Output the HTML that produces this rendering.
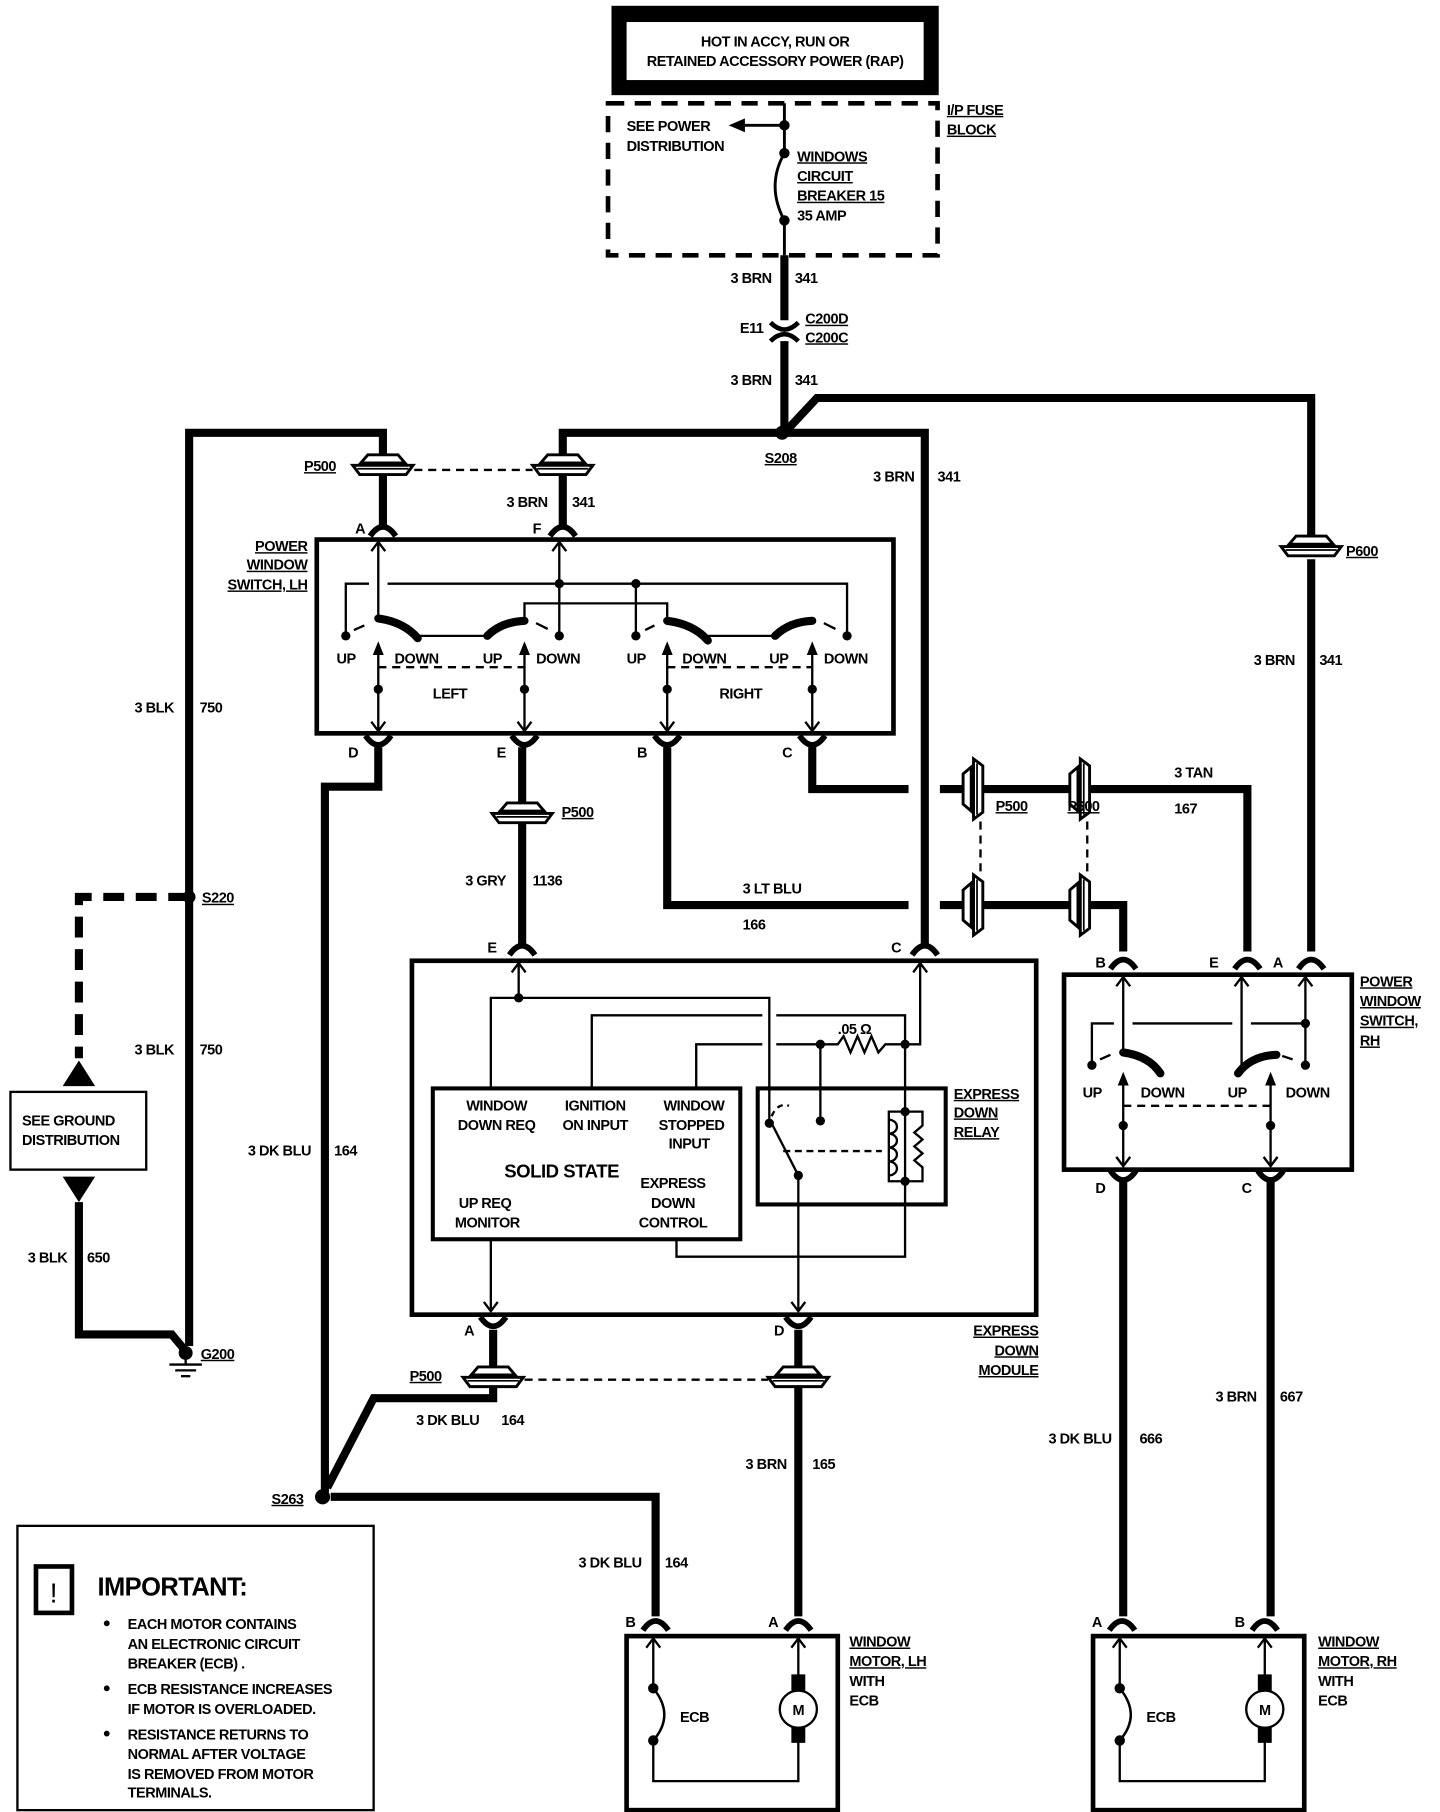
<!DOCTYPE html>
<html><head><meta charset="utf-8"><style>
html,body{margin:0;padding:0;background:#fff}
svg{display:block}
text{font-family:"Liberation Sans",Arial,sans-serif;font-weight:bold;font-size:12.5px;fill:#000;letter-spacing:-0.4px}
.u{text-decoration:underline}
</style></head><body>
<svg width="1440" height="1812" viewBox="0 0 1241 1561.6" xmlns="http://www.w3.org/2000/svg">
<defs>
<path id="ta" d="M-11,7 Q0,-9 11,7" fill="none" stroke="#000" stroke-width="5"/>
<path id="bt" d="M-11,-7 Q0,9 11,-7" fill="none" stroke="#000" stroke-width="5"/>
<g id="ch"><path d="M-13,-9 L13,-9 L19,-2 L-19,-2 Z" fill="#fff" stroke="#000" stroke-width="2.5"/><path d="M-26,0 L26,0 L20,8 L-20,8 Z" fill="#fff" stroke="#000" stroke-width="2.5"/><line x1="-22" y1="3" x2="22" y2="3" stroke="#000" stroke-width="1.5"/></g>
<path id="au" d="M-6,8 L0,0 L6,8" fill="none" stroke="#000" stroke-width="2"/>
<path id="ad" d="M-6,-8 L0,0 L6,-8" fill="none" stroke="#000" stroke-width="2"/>
<path id="aup" d="M-4,10 L0,0 L4,10 Z" fill="#000" stroke="#000" stroke-width="1"/>
</defs>

<!-- top power box -->
<rect x="527" y="5" width="282" height="77" fill="#000"/>
<rect x="540" y="19" width="256" height="50" fill="#fff"/>
<text x="668" y="40" text-anchor="middle">HOT IN ACCY, RUN OR</text>
<text x="668" y="57" text-anchor="middle">RETAINED ACCESSORY POWER (RAP)</text>

<!-- fuse block -->
<rect x="524" y="89" width="284" height="131" fill="none" stroke="#000" stroke-width="4" stroke-dasharray="14 9"/>
<g stroke="#000" stroke-width="2.5" fill="none">
<line x1="676" y1="89" x2="676" y2="132"/>
<line x1="676" y1="108" x2="640" y2="108"/>
<path d="M676,132 Q660,160 676,190"/>
<line x1="676" y1="190" x2="676" y2="220"/>
</g>
<path d="M628,108 L642,102 L642,114 Z"/>
<circle cx="676" cy="108" r="4.5"/><circle cx="676" cy="132" r="4.5"/><circle cx="676" cy="190" r="4.5"/>
<text x="540" y="113">SEE POWER</text><text x="540" y="130">DISTRIBUTION</text>
<text x="687" y="139" class="u">WINDOWS</text><text x="687" y="156" class="u">CIRCUIT</text><text x="687" y="173" class="u">BREAKER 15</text><text x="687" y="190">35 AMP</text>
<text x="816" y="99" class="u">I/P FUSE</text><text x="816" y="116" class="u">BLOCK</text>

<!-- thick wires -->
<g stroke="#000" stroke-width="7" fill="none">
<polyline points="676,220 676,276"/>
<polyline points="676,294 676,373"/>
<polyline points="676,373 704,343 1130,343 1130,462"/>
<polyline points="1130,482 1130,820"/>
<polyline points="485,393 485,373 797,373 797,814"/>
<polyline points="485,410 485,452"/>
<polyline points="330,393 330,373 163,373 163,1160"/>
<polyline points="330,410 330,452"/>
<polyline points="326,644 326,678 280,678 280,1286"/>
<polyline points="450,644 450,692"/>
<polyline points="450,710 450,814"/>
<polyline points="575,644 575,780 783,780"/>
<polyline points="700,644 700,680 783,680"/>
<polyline points="810,680 830,680"/>
<polyline points="810,780 830,780"/>
<polyline points="848,680 922,680"/>
<polyline points="848,780 922,780"/>
<polyline points="940,680 1075,680 1075,820"/>
<polyline points="940,780 968,780 968,820"/>
<polyline points="425,1146 425,1178"/>
<polyline points="425,1196 425,1205 322,1205 282,1282"/>
<polyline points="688,1146 688,1178"/>
<polyline points="688,1196 688,1393"/>
<polyline points="285,1290 565,1290 565,1393"/>
<polyline points="968,1016 968,1393"/>
<polyline points="1095,1016 1095,1393"/>
<polyline points="68,1036 68,1150 148,1150 158,1162"/>
</g>
<polyline points="163,773 68,773 68,912" fill="none" stroke="#000" stroke-width="7" stroke-dasharray="18 10"/>
<!-- C200 -->
<path d="M664,278 Q676,290 688,278 M664,294 Q676,282 688,294" fill="none" stroke="#000" stroke-width="4"/>
<text x="658" y="287" text-anchor="end">E11</text>
<text x="694" y="279" class="u">C200D</text><text x="694" y="295" class="u">C200C</text>
<text x="665" y="244" text-anchor="end">3 BRN</text><text x="685" y="244">341</text>
<text x="665" y="332" text-anchor="end">3 BRN</text><text x="685" y="332">341</text>
<circle cx="674" cy="373" r="6"/>
<text x="659" y="399" class="u">S208</text>
<text x="788" y="415" text-anchor="end">3 BRN</text><text x="808" y="415">341</text>
<text x="472" y="437" text-anchor="end">3 BRN</text><text x="493" y="437">341</text>

<!-- P500 top -->
<use href="#ch" x="330" y="401"/><use href="#ch" x="485" y="401"/>
<line x1="357" y1="405" x2="459" y2="405" stroke="#000" stroke-width="2" stroke-dasharray="7 5"/>
<text x="262" y="406" class="u">P500</text>
<use href="#ch" x="1130" y="471"/><text x="1160" y="479" class="u">P600</text>
<text x="1116" y="573" text-anchor="end">3 BRN</text><text x="1137" y="573">341</text>
<text x="150" y="614" text-anchor="end">3 BLK</text><text x="172" y="614">750</text>
<text x="150" y="909" text-anchor="end">3 BLK</text><text x="172" y="909">750</text>
<circle cx="163" cy="773" r="5.5"/><text x="174" y="778" class="u">S220</text>

<!-- ground distribution -->
<path d="M68,914 L82,936 L54,936 Z"/>
<rect x="9" y="941" width="117" height="67" fill="#fff" stroke="#000" stroke-width="2"/>
<text x="19" y="970">SEE GROUND</text><text x="19" y="987">DISTRIBUTION</text>
<path d="M54,1014 L82,1014 L68,1036 Z"/>
<text x="58" y="1088" text-anchor="end">3 BLK</text><text x="75" y="1088">650</text>
<circle cx="160" cy="1166" r="6"/>
<g stroke="#000" stroke-width="2"><line x1="160" y1="1160" x2="160" y2="1176"/><line x1="146" y1="1176" x2="174" y2="1176"/><line x1="151" y1="1181" x2="169" y2="1181"/><line x1="156" y1="1186" x2="164" y2="1186"/></g>
<text x="173" y="1171" class="u">G200</text>

<!-- LH switch -->
<text x="306" y="460">A</text><text x="459" y="460">F</text>
<use href="#ta" x="330" y="455"/><use href="#ta" x="485" y="455"/>
<rect x="273" y="465" width="497" height="167" fill="none" stroke="#000" stroke-width="4"/>
<g stroke="#000" stroke-width="2" fill="none">
<line x1="326" y1="467" x2="326" y2="532"/>
<line x1="482" y1="467" x2="482" y2="548"/>
<polyline points="298,548 298,503 318,503"/>
<polyline points="334,503 730,503 730,548"/>
<line x1="548" y1="503" x2="548" y2="548"/>
<polyline points="452,537 452,520 575,520 575,537"/>
<line x1="360" y1="548" x2="420" y2="548"/>
<line x1="610" y1="548" x2="668" y2="548"/>
<line x1="305" y1="543" x2="314" y2="539"/><line x1="462" y1="537" x2="472" y2="542"/>
<line x1="556" y1="543" x2="564" y2="539"/><line x1="710" y1="537" x2="720" y2="542"/>
<line x1="326" y1="556" x2="326" y2="630"/><line x1="452" y1="556" x2="452" y2="630"/>
<line x1="575" y1="556" x2="575" y2="630"/><line x1="700" y1="556" x2="700" y2="630"/>
</g>
<g stroke="#000" stroke-width="7" fill="none" stroke-linecap="round">
<path d="M326,533 Q348,536 360,550"/><path d="M420,548 Q432,536 452,535"/>
<path d="M575,535 Q598,538 610,552"/><path d="M668,548 Q680,536 700,535"/>
</g>
<use href="#au" x="326" y="467"/><use href="#au" x="482" y="467"/>
<circle cx="482" cy="503" r="4"/><circle cx="548" cy="503" r="4"/>
<circle cx="298" cy="548" r="4"/><circle cx="482" cy="548" r="4"/><circle cx="548" cy="548" r="4"/><circle cx="730" cy="548" r="4"/>
<use href="#aup" x="326" y="554"/><use href="#aup" x="452" y="554"/><use href="#aup" x="575" y="554"/><use href="#aup" x="700" y="554"/>
<line x1="326" y1="575" x2="452" y2="575" stroke="#000" stroke-width="2" stroke-dasharray="7 5"/>
<line x1="575" y1="575" x2="700" y2="575" stroke="#000" stroke-width="2" stroke-dasharray="7 5"/>
<circle cx="326" cy="594" r="4"/><circle cx="452" cy="594" r="4"/><circle cx="575" cy="594" r="4"/><circle cx="700" cy="594" r="4"/>
<use href="#ad" x="326" y="630"/><use href="#ad" x="452" y="630"/><use href="#ad" x="575" y="630"/><use href="#ad" x="700" y="630"/>
<text x="290" y="572">UP</text><text x="340" y="572">DOWN</text><text x="416" y="572">UP</text><text x="462" y="572">DOWN</text>
<text x="540" y="572">UP</text><text x="588" y="572">DOWN</text><text x="663" y="572">UP</text><text x="710" y="572">DOWN</text>
<text x="373" y="602">LEFT</text><text x="620" y="602">RIGHT</text>
<text x="265" y="475" text-anchor="end" class="u">POWER</text><text x="265" y="491" text-anchor="end" class="u">WINDOW</text><text x="265" y="508" text-anchor="end" class="u">SWITCH, LH</text>
<use href="#bt" x="326" y="641"/><use href="#bt" x="452" y="641"/><use href="#bt" x="575" y="641"/><use href="#bt" x="700" y="641"/>
<text x="300" y="653">D</text><text x="428" y="653">E</text><text x="549" y="653">B</text><text x="674" y="653">C</text>

<use href="#ch" x="450" y="701"/><text x="484" y="704" class="u">P500</text>
<text x="436" y="763" text-anchor="end">3 GRY</text><text x="459" y="763">1136</text>
<text x="268" y="996" text-anchor="end">3 DK BLU</text><text x="288" y="996">164</text>
<text x="640" y="770">3 LT BLU</text><text x="640" y="801">166</text>
<text x="1012" y="670">3 TAN</text><text x="1012" y="701">167</text>

<!-- vertical connectors -->
<use href="#ch" transform="translate(839,680) rotate(-90)"/>
<use href="#ch" transform="translate(839,780) rotate(-90)"/>
<use href="#ch" transform="translate(931,680) rotate(-90)"/>
<use href="#ch" transform="translate(931,780) rotate(-90)"/>
<line x1="845" y1="708" x2="845" y2="752" stroke="#000" stroke-width="2" stroke-dasharray="7 5"/>
<line x1="937" y1="708" x2="937" y2="752" stroke="#000" stroke-width="2" stroke-dasharray="7 5"/>
<text x="858" y="699" class="u">P500</text><text x="920" y="699" class="u">P600</text>

<!-- Express down module -->
<text x="420" y="821">E</text><text x="768" y="821">C</text>
<use href="#ta" x="450" y="816"/><use href="#ta" x="797" y="816"/>
<rect x="355" y="828" width="538" height="305" fill="none" stroke="#000" stroke-width="4"/>
<g stroke="#000" stroke-width="2" fill="none">
<line x1="447" y1="830" x2="447" y2="860"/>
<polyline points="423,938 423,860 663,860 663,968"/>
<polyline points="510,938 510,875 657,875"/>
<polyline points="669,875 780,875 780,1083 583,1083 583,1068"/>
<polyline points="600,938 600,900 657,900"/>
<polyline points="669,900 722,900 727,893 733,907 739,893 745,907 751,893 757,907 763,900 793,900 793,830"/>
<line x1="707" y1="900" x2="707" y2="966"/>
<polyline points="780,958 766,958 766,1018 780,1018"/>
<path d="M766,965 a7,6 0 0 1 0,12 M766,977 a7,6 0 0 1 0,12 M766,989 a7,6 0 0 1 0,12 M766,1001 a7,6 0 0 1 0,12"/>
<polyline points="780,958 795,958 795,970 788,976 795,982 788,988 795,994 788,1000 795,1006 795,1018 780,1018"/>
<line x1="688" y1="1013" x2="666" y2="970"/>
<line x1="688" y1="1013" x2="688" y2="1130"/>
<line x1="423" y1="1068" x2="423" y2="1130"/>
<path d="M665,962 Q670,950 680,953" stroke-dasharray="5 4"/>
<line x1="675" y1="992" x2="760" y2="992" stroke-dasharray="6 4"/>
</g>
<use href="#au" x="447" y="830"/><use href="#au" x="793" y="830"/>
<use href="#ad" x="423" y="1130"/><use href="#ad" x="688" y="1130"/>
<circle cx="447" cy="860" r="4"/><circle cx="707" cy="900" r="4"/><circle cx="780" cy="900" r="4"/>
<circle cx="663" cy="968" r="4"/><circle cx="707" cy="966" r="4"/><circle cx="688" cy="1013" r="4"/>
<circle cx="780" cy="958" r="4"/><circle cx="780" cy="1018" r="4"/>
<text x="722" y="891">.05 Ω</text>
<rect x="653" y="938" width="162" height="100" fill="none" stroke="#000" stroke-width="3.5"/>
<rect x="373" y="938" width="265" height="130" fill="none" stroke="#000" stroke-width="3.5"/>
<text x="428" y="957" text-anchor="middle">WINDOW</text><text x="428" y="974" text-anchor="middle">DOWN REQ</text>
<text x="513" y="957" text-anchor="middle">IGNITION</text><text x="513" y="974" text-anchor="middle">ON INPUT</text>
<text x="598" y="957" text-anchor="middle">WINDOW</text><text x="596" y="974" text-anchor="middle">STOPPED</text><text x="594" y="990" text-anchor="middle">INPUT</text>
<text x="484" y="1015" text-anchor="middle" style="font-size:16px">SOLID STATE</text>
<text x="580" y="1024" text-anchor="middle">EXPRESS</text><text x="580" y="1041" text-anchor="middle">DOWN</text><text x="580" y="1058" text-anchor="middle">CONTROL</text>
<text x="418" y="1041" text-anchor="middle">UP REQ</text><text x="420" y="1058" text-anchor="middle">MONITOR</text>
<text x="822" y="947" class="u">EXPRESS</text><text x="822" y="963" class="u">DOWN</text><text x="822" y="980" class="u">RELAY</text>
<text x="895" y="1151" text-anchor="end" class="u">EXPRESS</text><text x="895" y="1168" text-anchor="end" class="u">DOWN</text><text x="895" y="1185" text-anchor="end" class="u">MODULE</text>
<use href="#bt" x="425" y="1142"/><use href="#bt" x="688" y="1142"/>
<text x="400" y="1151">A</text><text x="667" y="1151">D</text>
<use href="#ch" x="425" y="1187"/><use href="#ch" x="688" y="1187"/>
<line x1="452" y1="1189" x2="662" y2="1189" stroke="#000" stroke-width="2" stroke-dasharray="7 5"/>
<text x="353" y="1190" class="u">P500</text>
<text x="413" y="1228" text-anchor="end">3 DK BLU</text><text x="432" y="1228">164</text>
<text x="678" y="1266" text-anchor="end">3 BRN</text><text x="700" y="1266">165</text>
<circle cx="278" cy="1290" r="6.5"/><text x="234" y="1296" class="u">S263</text>
<text x="553" y="1351" text-anchor="end">3 DK BLU</text><text x="573" y="1351">164</text>

<!-- RH switch -->
<text x="944" y="834">B</text><text x="1042" y="834">E</text><text x="1097" y="834">A</text>
<use href="#ta" x="968" y="828"/><use href="#ta" x="1075" y="828"/><use href="#ta" x="1130" y="828"/>
<rect x="917" y="840" width="248" height="168" fill="none" stroke="#000" stroke-width="4"/>
<g stroke="#000" stroke-width="2" fill="none">
<line x1="968" y1="842" x2="968" y2="907"/>
<line x1="1070" y1="842" x2="1070" y2="925"/>
<line x1="1125" y1="842" x2="1125" y2="918"/>
<polyline points="941,918 941,882 960,882"/>
<polyline points="976,882 1062,882"/><polyline points="1078,882 1125,882"/>
<line x1="948" y1="913" x2="957" y2="909"/><line x1="1105" y1="910" x2="1114" y2="913"/>
<line x1="968" y1="927" x2="968" y2="1005"/><line x1="1095" y1="927" x2="1095" y2="1005"/>
<line x1="968" y1="953" x2="1095" y2="953" stroke-dasharray="7 5"/>
</g>
<g stroke="#000" stroke-width="7" fill="none" stroke-linecap="round">
<path d="M968,907 Q990,910 1000,925"/><path d="M1067,925 Q1078,910 1100,909"/>
</g>
<use href="#au" x="968" y="842"/><use href="#au" x="1070" y="842"/><use href="#au" x="1125" y="842"/>
<circle cx="1125" cy="882" r="4"/><circle cx="941" cy="918" r="4"/><circle cx="1125" cy="918" r="4"/>
<use href="#aup" x="968" y="925"/><use href="#aup" x="1095" y="925"/>
<circle cx="968" cy="970" r="4"/><circle cx="1095" cy="970" r="4"/>
<use href="#ad" x="968" y="1005"/><use href="#ad" x="1095" y="1005"/>
<text x="933" y="946">UP</text><text x="983" y="946">DOWN</text><text x="1058" y="946">UP</text><text x="1108" y="946">DOWN</text>
<text x="1172" y="850" class="u">POWER</text><text x="1172" y="867" class="u">WINDOW</text><text x="1172" y="884" class="u">SWITCH,</text><text x="1172" y="901" class="u">RH</text>
<use href="#bt" x="968" y="1016"/><use href="#bt" x="1095" y="1016"/>
<text x="944" y="1028">D</text><text x="1070" y="1028">C</text>
<text x="958" y="1244" text-anchor="end">3 DK BLU</text><text x="982" y="1244">666</text>
<text x="1083" y="1208" text-anchor="end">3 BRN</text><text x="1103" y="1208">667</text>

<!-- motors -->
<g id="mot">
<use href="#ta" x="565" y="1398"/><use href="#ta" x="688" y="1398"/>
<rect x="540" y="1410" width="182" height="150" fill="none" stroke="#000" stroke-width="4"/>
<g stroke="#000" stroke-width="2" fill="none">
<polyline points="563,1412 563,1535 688,1535 688,1412"/>
<path d="M563,1455 Q582,1478 563,1500"/>
</g>
<rect x="561" y="1456" width="4" height="44" fill="#fff"/>
<path d="M563,1455 Q582,1478 563,1500" fill="none" stroke="#000" stroke-width="2"/>
<use href="#au" x="563" y="1412"/><use href="#au" x="688" y="1412"/>
<circle cx="563" cy="1455" r="4.5"/><circle cx="563" cy="1500" r="4.5"/>
<rect x="682" y="1443" width="12" height="14"/><rect x="682" y="1488" width="12" height="14"/>
<circle cx="688" cy="1473" r="16" fill="#fff" stroke="#000" stroke-width="2"/>
<text x="688" y="1478" text-anchor="middle">M</text>
<text x="586" y="1484">ECB</text>
</g>
<text x="539" y="1402">B</text><text x="662" y="1402">A</text>
<text x="732" y="1419" class="u">WINDOW</text><text x="732" y="1436" class="u">MOTOR, LH</text><text x="732" y="1453">WITH</text><text x="732" y="1470">ECB</text>
<use href="#mot" x="402" y="0"/>
<text x="941" y="1402">A</text><text x="1064" y="1402">B</text>
<text x="1136" y="1419" class="u">WINDOW</text><text x="1136" y="1436" class="u">MOTOR, RH</text><text x="1136" y="1453">WITH</text><text x="1136" y="1470">ECB</text>

<!-- important box -->
<rect x="15" y="1315" width="307" height="245" fill="none" stroke="#000" stroke-width="2"/>
<rect x="31" y="1350" width="31" height="40" fill="none" stroke="#000" stroke-width="4"/>
<text x="46" y="1381" text-anchor="middle" style="font-size:24px;font-weight:normal">!</text>
<text x="84" y="1375" style="font-size:22px;letter-spacing:-0.5px">IMPORTANT:</text>
<circle cx="92" cy="1399" r="2.5"/><circle cx="92" cy="1455" r="2.5"/><circle cx="92" cy="1494" r="2.5"/>
<g style="font-size:12px">
<text x="110" y="1404">EACH MOTOR CONTAINS</text><text x="110" y="1421">AN ELECTRONIC CIRCUIT</text><text x="110" y="1438">BREAKER (ECB) .</text>
<text x="110" y="1460">ECB RESISTANCE INCREASES</text><text x="110" y="1477">IF MOTOR IS OVERLOADED.</text>
<text x="110" y="1499">RESISTANCE RETURNS TO</text><text x="110" y="1516">NORMAL AFTER VOLTAGE</text><text x="110" y="1533">IS REMOVED FROM MOTOR</text><text x="110" y="1549">TERMINALS.</text>
</g>
</svg>
</body></html>
